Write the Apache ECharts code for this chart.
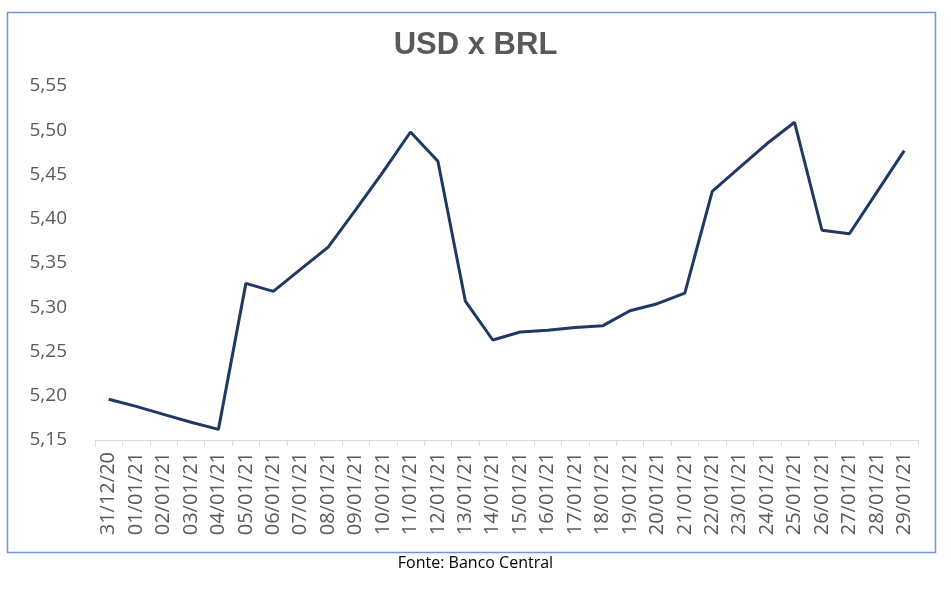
<!DOCTYPE html>
<html>
<head>
<meta charset="utf-8">
<script src="https://cdn.jsdelivr.net/npm/echarts@6/dist/echarts.min.js"></script>
<style>html,body{margin:0;padding:0;background:#fff}#c{width:951px;height:590px}</style>
</head>
<body>
<div id="c"></div>
<script>
const categories = ["31/12/20","01/01/21","02/01/21","03/01/21","04/01/21","05/01/21","06/01/21","07/01/21","08/01/21","09/01/21","10/01/21","11/01/21","12/01/21","13/01/21","14/01/21","15/01/21","16/01/21","17/01/21","18/01/21","19/01/21","20/01/21","21/01/21","22/01/21","23/01/21","24/01/21","25/01/21","26/01/21","27/01/21","28/01/21","29/01/21"];
const usdBrl = [5.196,5.188,5.179,5.170,5.162,5.327,5.318,5.343,5.368,5.410,5.453,5.498,5.465,5.307,5.263,5.272,5.274,5.277,5.279,5.296,5.304,5.316,5.431,5.458,5.485,5.509,5.387,5.383,5.430,5.477];
const yTicks = [5.15,5.20,5.25,5.30,5.35,5.40,5.45,5.50,5.55];

const chart = echarts.init(document.getElementById('c'));
chart.setOption({
  animation:false,
  title:{text:'USD x BRL',left:'center',top:25,textStyle:{fontFamily:'Liberation Sans',fontWeight:'bold',fontSize:31,color:'#595959'}},
  graphic:[
    {type:'rect',shape:{x:7.5,y:12.5,width:928,height:540},style:{fill:'none',stroke:'#6f95d8',lineWidth:1.5},silent:true,z:-1},
    {type:'text',left:'center',top:555,style:{text:'Fonte: Banco Central',font:'16px "Open Sans"',fill:'#000'}}
  ],
  grid:{left:95,right:33,top:86,bottom:150},
  xAxis:{type:'category',data:categories,boundaryGap:true,
    axisLine:{lineStyle:{color:'#d9d9d9',width:1}},
    axisTick:{show:true,length:6,lineStyle:{color:'#d9d9d9'}},
    axisLabel:{rotate:90,interval:0,margin:12,fontSize:20,fontFamily:'Open Sans',color:'#595959'}},
  yAxis:{type:'value',min:yTicks[0],max:yTicks[yTicks.length-1],interval:0.05,
    axisLine:{show:false},axisTick:{show:false},splitLine:{show:false},
    axisLabel:{margin:28,fontSize:19,fontFamily:'Open Sans',color:'#595959',
      formatter:v=>v.toFixed(2).replace('.',',')}},
  series:[{type:'line',data:usdBrl,symbol:'none',lineStyle:{color:'#1f3864',width:3},itemStyle:{color:'#1f3864'}}]
});
</script>
</body>
</html>
